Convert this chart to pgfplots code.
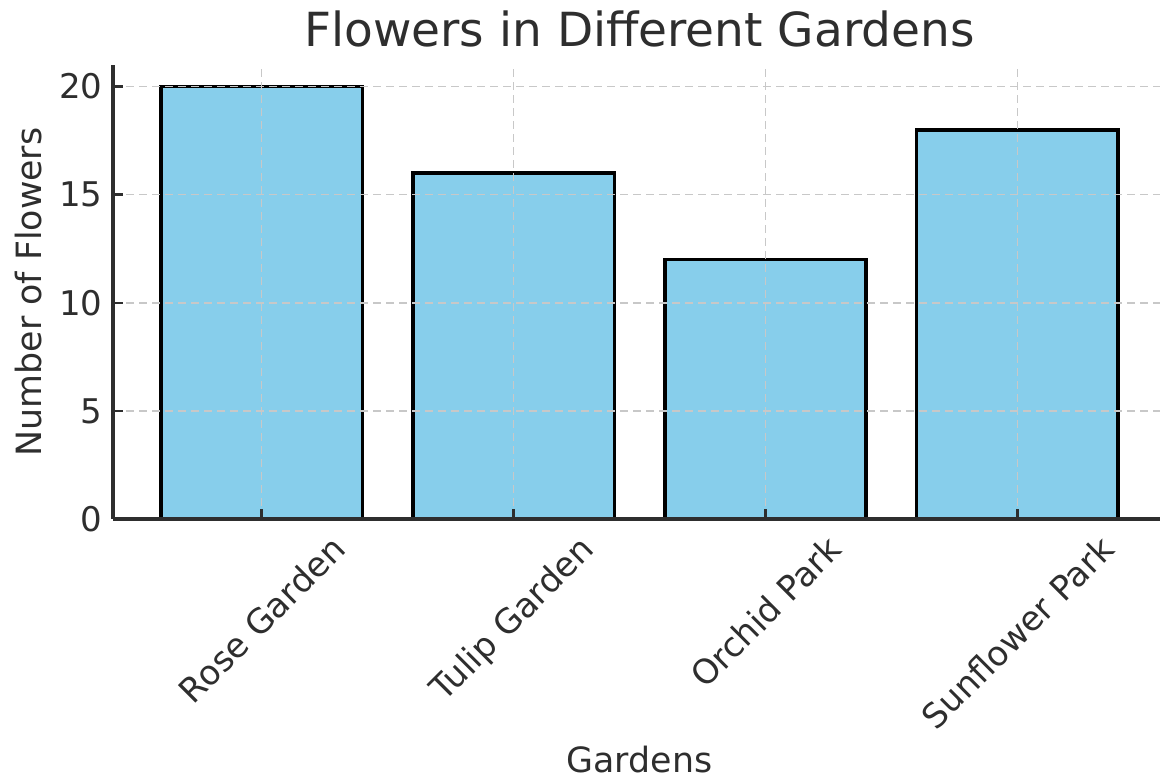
\documentclass[border=0pt]{standalone}
\usepackage{pgfplots}
\pgfplotsset{compat=1.18}
\usepackage{graphicx}
\usepackage{fontspec}
\setmainfont{DejaVu Sans}
\definecolor{skyblue}{RGB}{135,206,235}
\definecolor{txt}{HTML}{2E2E2E}
\definecolor{gridc}{HTML}{C8C8C8}
\begin{document}
\begin{tikzpicture}
\begin{axis}[
  at={(0,0)}, anchor=south west,
  width=526.5pt, height=227pt, scale only axis,
  xmin=-0.59, xmax=3.59, ymin=0, ymax=21,
  axis x line*=bottom, axis y line*=left,
  axis line style={color=txt, line width=1.6pt, -},
  xtick={0,1,2,3},
  xticklabels={{\rotatebox{45}{Rose Garden}},{\rotatebox{45}{Tulip Garden}},{\rotatebox{45}{Orchid Park}},{\rotatebox{45}{Sunflower Park}}},
  ytick={0,5,10,15,20},
  tick align=inside,
  major tick length=5pt,
  tick style={color=txt, line width=1.3pt},
  grid=major,
  major grid style={gridc, line width=0.7pt, dash pattern=on 4pt off 2.5pt},
  axis on top,
  /pgf/number format/assume math mode=true,
  ticklabel style={font=\fontsize{17}{20}\selectfont, color=txt},
  xticklabel style={anchor=north, inner sep=0pt, yshift=-7pt},
  yticklabel style={anchor=east, inner sep=0pt, xshift=-5pt},
  label style={font=\fontsize{17.4}{21}\selectfont, color=txt},
  title={Flowers in Different Gardens},
  title style={at={(axis description cs:0.5,1)}, anchor=south, inner sep=0pt, yshift=2.5pt, font=\fontsize{23.5}{28}\selectfont, color=txt},
  xlabel={Gardens},
  xlabel style={at={([yshift=-113.5pt]axis description cs:0.5,0)}, anchor=north, inner sep=0pt},
  ylabel={Number of Flowers},
  ylabel style={at={([xshift=-35.5pt]axis description cs:0,0.5)}, anchor=south, inner sep=0pt},
]
\addplot[ybar, bar width=0.8, fill=skyblue, draw=black, line width=1.8pt] coordinates {(0,20) (1,16) (2,12) (3,18)};
\end{axis}
\pgfresetboundingbox
\path[use as bounding box] (-56.5pt,-130.5pt) rectangle (523.5pt,259.5pt);
\end{tikzpicture}
\end{document}
